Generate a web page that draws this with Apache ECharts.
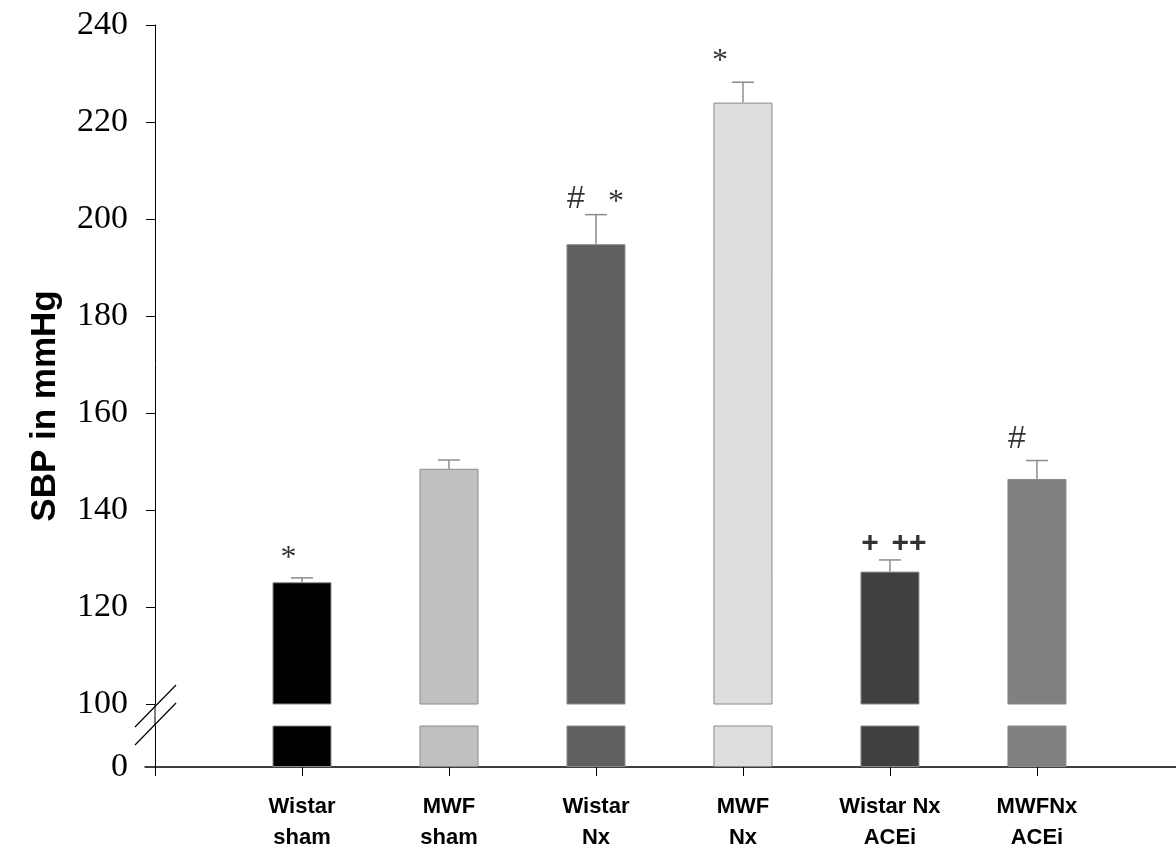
<!DOCTYPE html>
<html>
<head>
<meta charset="utf-8">
<script src="https://cdn.jsdelivr.net/npm/echarts@6/dist/echarts.min.js"></script>
<style>
  html, body { margin: 0; padding: 0; background: #ffffff; }
  #chart { width: 1176px; height: 848px; }
</style>
</head>
<body>
<div id="chart"></div>
<script>
// ---- data ----
const categories = ['Wistar\nsham', 'MWF\nsham', 'Wistar\nNx', 'MWF\nNx', 'Wistar Nx\nACEi', 'MWFNx\nACEi'];
const sbpMean = [125.1, 148.5, 194.8, 224.0, 127.3, 146.4];
const sbpSem = [0.9, 1.8, 6.1, 4.2, 2.4, 3.8];
const barColors = ['#000000', '#c0c0c0', '#606060', '#dedede', '#404040', '#808080'];
const yUpperMin = 100, yUpperMax = 240, yUpperStep = 20;
const annText = ['*', '#', '*', '*', '+', '++', '#'];
const annX = [0.908, 2.864, 3.136, 3.844, 4.864, 5.129, 5.864];
const annY = [129.9, 204.1, 203.3, 232.4, 133.1, 133.1, 154.6];

// ---- build ----
const serif = '"Liberation Serif", "Times New Roman", serif';
const sans = '"Liberation Sans", Arial, sans-serif';
const xPos = categories.map((c, i) => i + 1);

const barData = sbpMean.map((v, i) => ({
  value: [xPos[i], v],
  itemStyle: { color: barColors[i], borderColor: '#8a8a8a', borderWidth: 1 }
}));
const errData = sbpMean.map((v, i) => [xPos[i], v, sbpSem[i]]);

const annStyle = {
  '*': { fontFamily: serif, fontSize: 32, fontWeight: 'normal' },
  '#': { fontFamily: sans, fontSize: 32, fontWeight: 'normal' },
  '+': { fontFamily: sans, fontSize: 30, fontWeight: 'bold' },
  '++': { fontFamily: sans, fontSize: 30, fontWeight: 'bold' }
};
const annData = annText.map((t, i) => ({
  value: [annX[i], annY[i]],
  label: Object.assign({ show: true, formatter: t, position: 'inside', color: '#000' }, annStyle[t])
}));

const xCommon = { type: 'value', min: -0.068, max: 6.946 };

const chart = echarts.init(document.getElementById('chart'), null, { renderer: 'canvas' });
chart.setOption({
  backgroundColor: '#ffffff',
  animation: false,
  grid: [
    { left: 145, right: 0, top: 25, height: 679, outerBoundsMode: 'none', containLabel: false },
    { left: 145, right: 0, top: 726, height: 41, outerBoundsMode: 'none', containLabel: false }
  ],
  xAxis: [
    Object.assign({ gridIndex: 0, show: false }, xCommon),
    Object.assign({
      gridIndex: 1,
      splitLine: { show: false },
      axisLine: { onZero: false, lineStyle: { color: '#000', width: 1.5 } },
      axisTick: { show: true, length: 9, customValues: [0, 1, 2, 3, 4, 5, 6], lineStyle: { color: '#000', width: 1 } },
      axisLabel: {
        customValues: xPos,
        margin: 24,
        formatter: v => categories[Math.round(v) - 1] || '',
        fontFamily: sans, fontWeight: 'bold', fontSize: 22, lineHeight: 31, color: '#000'
      }
    }, xCommon)
  ],
  yAxis: [
    {
      gridIndex: 0, type: 'value', min: yUpperMin, max: yUpperMax, interval: yUpperStep,
      splitLine: { show: false },
      axisLine: { show: true, onZero: true, lineStyle: { color: '#000', width: 1 } },
      axisTick: { show: true, length: 9, lineStyle: { color: '#000' } },
      axisLabel: { margin: 17, fontFamily: serif, fontSize: 34, color: '#000' }
    },
    {
      gridIndex: 1, type: 'value', min: 0, max: 10, interval: 10,
      splitLine: { show: false },
      axisLine: { show: true, onZero: true, lineStyle: { color: '#000', width: 1 } },
      axisTick: { show: false },
      axisLabel: { customValues: [0], margin: 17, fontFamily: serif, fontSize: 34, color: '#000' }
    }
  ],
  series: [
    { type: 'bar', xAxisIndex: 0, yAxisIndex: 0, barWidth: 59, clip: true, data: barData, silent: true },
    { type: 'bar', xAxisIndex: 1, yAxisIndex: 1, barWidth: 59, clip: true, data: barData, silent: true },
    {
      type: 'custom', xAxisIndex: 0, yAxisIndex: 0, data: errData, silent: true,
      renderItem: function (params, api) {
        const x = api.value(0), m = api.value(1), e = api.value(2);
        const p0 = api.coord([x, m]);
        const p1 = api.coord([x, m + e]);
        const hw = 11;
        const st = { stroke: '#8c8c8c', lineWidth: 1.5 };
        return {
          type: 'group',
          children: [
            { type: 'line', shape: { x1: p0[0], y1: p0[1], x2: p1[0], y2: p1[1] }, style: st },
            { type: 'line', shape: { x1: p1[0] - hw, y1: p1[1], x2: p1[0] + hw, y2: p1[1] }, style: st }
          ]
        };
      }
    },
    {
      type: 'scatter', xAxisIndex: 0, yAxisIndex: 0, symbolSize: 0, silent: true,
      data: annData
    }
  ],
  graphic: [
    {
      type: 'text', x: 45, y: 406, rotation: Math.PI / 2,
      style: { text: 'SBP in mmHg', font: 'bold 35px "Liberation Sans", Arial, sans-serif', fill: '#000', textAlign: 'center', textVerticalAlign: 'middle' }
    },
    { type: 'line', shape: { x1: 155, y1: 704, x2: 155, y2: 726 }, style: { stroke: '#000', lineWidth: 1 } },
    { type: 'line', shape: { x1: 135, y1: 727, x2: 176, y2: 685 }, style: { stroke: '#000', lineWidth: 1.2 } },
    { type: 'line', shape: { x1: 135, y1: 745, x2: 176, y2: 703 }, style: { stroke: '#000', lineWidth: 1.2 } }
  ]
});
</script>
</body>
</html>
